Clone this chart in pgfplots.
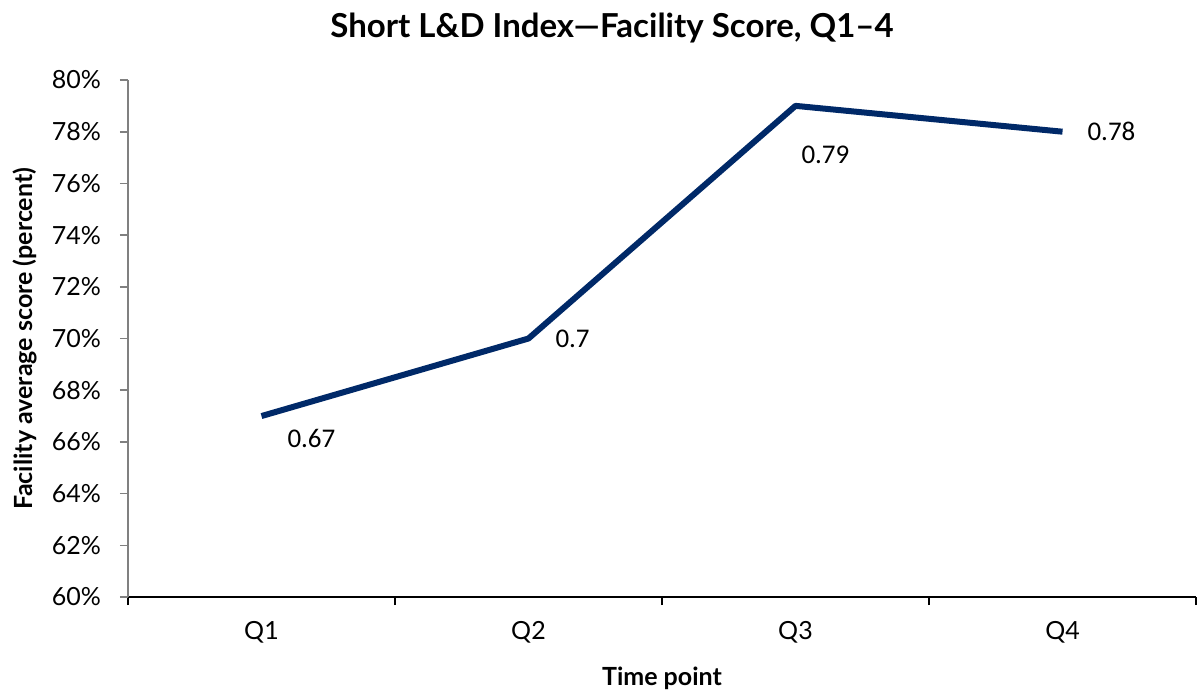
\documentclass[border=0pt]{standalone}
\usepackage{pgfplots}
\pgfplotsset{compat=1.18}
\usepackage{pgfplotstable}
\usepackage{fontspec}
\setmainfont{Lato}
\newfontfamily\labelfont{Carlito}
\definecolor{navy}{RGB}{0,41,104}
\pgfplotstableread{
x y lbl dx dy
0 67 0.67 11.5 -11
1 70 0.7 12 0
2 79 0.79 1.5 -24.5
3 78 0.78 11 0
}\datatable
\begin{document}
\begin{tikzpicture}
\begin{axis}[
  at={(0,0)}, anchor=south west,
  scale only axis, width=534pt, height=258.5pt,
  xmin=-0.5, xmax=3.5, ymin=60, ymax=80,
  ytick={60,62,...,80},
  yticklabel={\pgfmathprintnumber{\tick}\%},
  xtick={-0.5,0.5,1.5,2.5,3.5}, xticklabels={Q1,Q2,Q3,Q4},
  x tick label as interval,
  x tick style={black, line width=0.8pt},
  y tick style={gray, line width=0.8pt},
  tick align=outside, major tick length=4pt,
  axis x line*=bottom, axis y line*=left,
  x axis line style={black, line width=0.9pt, -},
  y axis line style={gray, line width=0.8pt, -},
  /pgf/number format/assume math mode=true,
  tick label style={font=\fontsize{12.5}{14}\selectfont},
  yticklabel style={xshift=-6pt},
  xticklabel style={yshift=-4.5pt},
  xlabel={\textbf{Time point}}, ylabel={\textbf{Facility average score (percent)}},
  label style={font=\fontsize{12.5}{14}\selectfont},
  xlabel style={at={(axis description cs:0.5,0)}, anchor=center, yshift=-40.5pt},
  ylabel style={at={(axis description cs:-0.0964,0.5)}, anchor=center},
  title={\textbf{Short L\&D Index---Facility Score, Q1--4}},
  title style={font=\fontsize{16.5}{18}\selectfont, at={(axis description cs:0.5,1)}, anchor=center, yshift=20pt, xshift=-25pt},
  clip=false,
]
\addplot[navy, line width=3pt, line join=round, no marks,
  nodes near coords,
  point meta=explicit symbolic,
  visualization depends on={\thisrow{dx}\as\dx},
  visualization depends on={\thisrow{dy}\as\dy},
  every node near coord/.append style={anchor=west, black, font=\labelfont\fontsize{13.5}{15}\selectfont, xshift=\dx pt, yshift=\dy pt, inner sep=0pt},
] table[x=x, y=y, meta=lbl] {\datatable};
\end{axis}
\pgfresetboundingbox
\path[use as bounding box] (-64pt,-47.5pt) rectangle (535pt,298.5pt);
\end{tikzpicture}
\end{document}
